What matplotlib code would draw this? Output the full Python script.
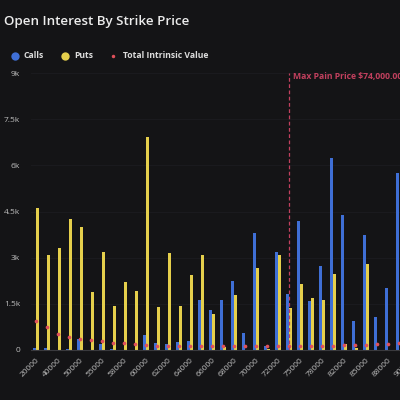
import numpy as np
import matplotlib
matplotlib.use("Agg")
import matplotlib.pyplot as plt
from matplotlib.lines import Line2D

# strike prices (every other one is labelled on the axis)
strikes = [20000, 30000, 40000, 45000, 50000, 52000, 55000, 56000, 58000, 59000,
           60000, 61000, 62000, 63000, 64000, 65000, 66000, 67000, 68000, 69000,
           70000, 71000, 72000, 74000, 75000, 76000, 78000, 80000, 82000, 84000,
           85000, 86000, 88000, 89000, 90000]
calls = [50, 60, 0, 20, 350, 0, 200, 20, 0, 0,
         490, 220, 195, 260, 290, 1640, 1300, 1610, 2240, 545,
         3815, 130, 3185, 1815, 4205, 1600, 2715, 6240, 4390, 935,
         3740, 1075, 2020, 5750, 3000]
puts = [4600, 3100, 3300, 4260, 4000, 1890, 3180, 1445, 2215, 1910,
        6930, 1400, 3150, 1445, 2445, 3090, 1175, 110, 1790, 0,
        2675, 20, 3100, 1370, 2140, 1705, 1610, 2470, 185, 50,
        2795, 0, 0, 0, 0]
intrinsic = [955, 760, 530, 425, 360, 320, 280, 240, 225, 200,
             165, 145, 135, 130, 130, 130, 130, 130, 130, 130,
             130, 130, 130, 130, 130, 130, 135, 140, 150, 160,
             170, 190, 210, 220, 230]
max_pain = 74000

BG = "#141416"
BLUE = "#3f6fd6"
YELLOW = "#e5cf4c"
RED = "#e0505a"
PAIN = "#c2405e"

plt.rcParams["font.family"] = ["Open Sans", "DejaVu Sans"]

fig = plt.figure(figsize=(4, 4), dpi=100, facecolor=BG)
n = len(strikes)
ax = fig.add_axes([30.5 / 400, 0.125, n * 11 / 400, 0.6925], facecolor=BG)

x = np.arange(n)
w = 0.25
ax.bar(x - 0.16, calls, width=w, color=BLUE, zorder=2)
ax.bar(x + 0.16, puts, width=w, color=YELLOW, zorder=2)
ax.scatter(x, intrinsic, s=7, color=RED, zorder=3, linewidths=0)

# max pain marker
mp = strikes.index(max_pain)
ax.axvline(mp, color=PAIN, lw=0.9, ls=(0, (3, 2)), zorder=4)
ax.text(mp + 0.35, 8880, "Max Pain Price $74,000.00", color=PAIN,
        fontsize=6.2, fontweight="bold", va="center", ha="left")

ax.set_xlim(-0.5, n - 0.5)
ax.set_ylim(0, 9000)
ax.set_yticks([0, 1500, 3000, 4500, 6000, 7500, 9000])
ax.set_yticklabels(["0", "1.5k", "3k", "4.5k", "6k", "7.5k", "9k"])
ax.set_xticks(x[::2])
ax.set_xticklabels([str(s) for s in strikes[::2]], rotation=45, ha="right",
                   rotation_mode="anchor")
ax.tick_params(axis="both", length=0, colors="#bdbdbd", labelsize=6)
ax.tick_params(axis="y", pad=7.5)
ax.tick_params(axis="x", pad=5)
ax.grid(axis="y", color="#1c1c20", lw=0.6, zorder=0)
for side in ["top", "right", "left"]:
    ax.spines[side].set_visible(False)
ax.spines["bottom"].set_color("#3a3a3e")
ax.spines["bottom"].set_linewidth(0.8)

# title
fig.text(4 / 400, 1 - 21 / 400, "Open Interest By Strike Price", color="#ececec",
         fontsize=9.6, fontweight="semibold", va="center", ha="left")

# legend drawn by hand
legend = [(15, BLUE, 6, "Calls", 24),
          (65, YELLOW, 6, "Puts", 74),
          (113, RED, 2.5, "Total Intrinsic Value", 123)]
ly = 1 - 56 / 400
for mx, col, ms, label, tx in legend:
    fig.add_artist(Line2D([mx / 400], [ly], marker="o", color=col, markersize=ms,
                          markeredgewidth=0, transform=fig.transFigure))
    fig.text(tx / 400, ly, label, color="#dcdcdc", fontsize=6.2,
             fontweight="bold", va="center", ha="left")

fig.savefig("out.png", dpi=100, facecolor=BG)
